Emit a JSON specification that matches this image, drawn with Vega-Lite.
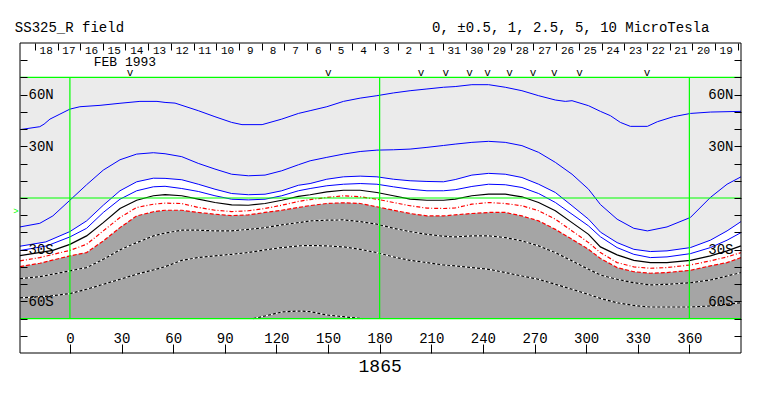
{
"$schema": "https://vega.github.io/schema/vega-lite/v6.json",
"width": 721, "height": 310,
"autosize": {"type": "none"},
"padding": {"left": 20, "top": 43, "right": 22, "bottom": 43},
"background": "white",
"config": {
 "view": {"stroke": null},
 "text": {"font": "Liberation Mono", "color": "black"},
 "axis": {"labelFont": "Liberation Mono", "labelFontSize": 14, "labelColor": "black", "tickColor": "black", "domain": false, "grid": false, "labelOverlap": false, "labelFlush": false, "labelBound": false}
},
"datasets": {
"contours": [
{"level":5,"lon":-29,"lat":39.7},{"level":5,"lon":-17.5,"lat":41.4},{"level":5,"lon":-15,"lat":42.9},{"level":5,"lon":-11.6,"lat":45.8},{"level":5,"lon":-5.8,"lat":48.7},{"level":5,"lon":0,"lat":51.6},{"level":5,"lon":5.8,"lat":53.0},{"level":5,"lon":17.5,"lat":53.8},{"level":5,"lon":29.1,"lat":55.0},{"level":5,"lon":40.7,"lat":56.1},{"level":5,"lon":50.6,"lat":56.1},{"level":5,"lon":55.3,"lat":55.5},{"level":5,"lon":61.1,"lat":55.1},{"level":5,"lon":74.6,"lat":50.7},{"level":5,"lon":84.3,"lat":47.2},{"level":5,"lon":94,"lat":43.9},{"level":5,"lon":100,"lat":42.6},{"level":5,"lon":111.7,"lat":42.6},{"level":5,"lon":123.1,"lat":45.8},{"level":5,"lon":132.8,"lat":49.1},{"level":5,"lon":139.6,"lat":50.7},{"level":5,"lon":149.3,"lat":53.0},{"level":5,"lon":159,"lat":56.1},{"level":5,"lon":168.7,"lat":58.0},{"level":5,"lon":178.4,"lat":59.4},{"level":5,"lon":188,"lat":61.0},{"level":5,"lon":197.7,"lat":62.3},{"level":5,"lon":207.5,"lat":63.3},{"level":5,"lon":217.1,"lat":64.3},{"level":5,"lon":223.9,"lat":64.7},{"level":5,"lon":233.6,"lat":65.8},{"level":5,"lon":243.3,"lat":65.8},{"level":5,"lon":253,"lat":64.3},{"level":5,"lon":262.7,"lat":62.3},{"level":5,"lon":272.4,"lat":59.4},{"level":5,"lon":282.1,"lat":56.9},{"level":5,"lon":287.9,"lat":56.1},{"level":5,"lon":291.8,"lat":56.5},{"level":5,"lon":301.4,"lat":53.6},{"level":5,"lon":308.3,"lat":50.3},{"level":5,"lon":314.1,"lat":47.8},{"level":5,"lon":319.9,"lat":43.9},{"level":5,"lon":325.7,"lat":41.6},{"level":5,"lon":335.6,"lat":41.6},{"level":5,"lon":341.4,"lat":44.3},{"level":5,"lon":350.7,"lat":47.2},{"level":5,"lon":360.6,"lat":49.1},{"level":5,"lon":372.2,"lat":49.9},{"level":5,"lon":390,"lat":50.3},
{"level":2.5,"lon":-29,"lat":-16.8},{"level":2.5,"lon":-17.5,"lat":-14.7},{"level":2.5,"lon":-9.9,"lat":-10.4},{"level":2.5,"lon":0,"lat":-1.3},{"level":2.5,"lon":9.7,"lat":7.7},{"level":2.5,"lon":19.4,"lat":16.2},{"level":2.5,"lon":29.1,"lat":22.2},{"level":2.5,"lon":38.8,"lat":25.5},{"level":2.5,"lon":48.5,"lat":26.3},{"level":2.5,"lon":55.3,"lat":25.7},{"level":2.5,"lon":65,"lat":24.0},{"level":2.5,"lon":74.6,"lat":20.1},{"level":2.5,"lon":84.3,"lat":16.8},{"level":2.5,"lon":94,"lat":13.8},{"level":2.5,"lon":103.7,"lat":12.9},{"level":2.5,"lon":113.4,"lat":13.3},{"level":2.5,"lon":123.1,"lat":15.8},{"level":2.5,"lon":132.8,"lat":19.3},{"level":2.5,"lon":139.6,"lat":21.6},{"level":2.5,"lon":149.3,"lat":23.6},{"level":2.5,"lon":159,"lat":25.5},{"level":2.5,"lon":168.7,"lat":27.0},{"level":2.5,"lon":178.4,"lat":27.8},{"level":2.5,"lon":188,"lat":28.0},{"level":2.5,"lon":197.7,"lat":28.4},{"level":2.5,"lon":207.5,"lat":29.4},{"level":2.5,"lon":217.1,"lat":30.5},{"level":2.5,"lon":223.9,"lat":31.3},{"level":2.5,"lon":233.6,"lat":32.3},{"level":2.5,"lon":243.3,"lat":32.9},{"level":2.5,"lon":253,"lat":32.3},{"level":2.5,"lon":262.7,"lat":30.4},{"level":2.5,"lon":272.4,"lat":26.5},{"level":2.5,"lon":282.1,"lat":20.7},{"level":2.5,"lon":291.8,"lat":13.8},{"level":2.5,"lon":301.4,"lat":5.1},{"level":2.5,"lon":308.3,"lat":-3.8},{"level":2.5,"lon":318,"lat":-12.3},{"level":2.5,"lon":327.7,"lat":-17.6},{"level":2.5,"lon":335.6,"lat":-19.1},{"level":2.5,"lon":347,"lat":-16.8},{"level":2.5,"lon":360.6,"lat":-11.3},{"level":2.5,"lon":372.2,"lat":0.3},{"level":2.5,"lon":381.9,"lat":8.0},{"level":2.5,"lon":390,"lat":12.3},
{"level":1,"lon":-29,"lat":-28.0},{"level":1,"lon":-14,"lat":-25.5},{"level":1,"lon":0,"lat":-19.5},{"level":1,"lon":9.7,"lat":-13.3},{"level":1,"lon":19.4,"lat":-4.2},{"level":1,"lon":29.1,"lat":4.2},{"level":1,"lon":38.8,"lat":9.4},{"level":1,"lon":48.5,"lat":11.5},{"level":1,"lon":55.3,"lat":11.4},{"level":1,"lon":65,"lat":10.6},{"level":1,"lon":74.6,"lat":8.0},{"level":1,"lon":84.3,"lat":5.1},{"level":1,"lon":94,"lat":2.6},{"level":1,"lon":103.7,"lat":1.9},{"level":1,"lon":113.4,"lat":2.2},{"level":1,"lon":123.1,"lat":4.2},{"level":1,"lon":132.8,"lat":7.4},{"level":1,"lon":139.6,"lat":8.4},{"level":1,"lon":149.3,"lat":10.9},{"level":1,"lon":159,"lat":12.3},{"level":1,"lon":168.7,"lat":12.7},{"level":1,"lon":178.4,"lat":12.3},{"level":1,"lon":188,"lat":10.9},{"level":1,"lon":197.7,"lat":10.0},{"level":1,"lon":207.5,"lat":9.6},{"level":1,"lon":217.1,"lat":9.4},{"level":1,"lon":223.9,"lat":10.7},{"level":1,"lon":233.6,"lat":13.3},{"level":1,"lon":243.3,"lat":14.3},{"level":1,"lon":253,"lat":13.8},{"level":1,"lon":262.7,"lat":11.9},{"level":1,"lon":272.4,"lat":8.0},{"level":1,"lon":282.1,"lat":3.2},{"level":1,"lon":291.8,"lat":-4.5},{"level":1,"lon":301.4,"lat":-12.3},{"level":1,"lon":308.3,"lat":-19.8},{"level":1,"lon":318,"lat":-25.9},{"level":1,"lon":327.7,"lat":-29.8},{"level":1,"lon":337.3,"lat":-31.1},{"level":1,"lon":347,"lat":-30.7},{"level":1,"lon":360.6,"lat":-28.8},{"level":1,"lon":372.2,"lat":-24.5},{"level":1,"lon":381.9,"lat":-19.1},{"level":1,"lon":390,"lat":-13.7},
{"level":0.5,"lon":-29,"lat":-30.5},{"level":0.5,"lon":-13.4,"lat":-27.8},{"level":0.5,"lon":0,"lat":-22.6},{"level":0.5,"lon":9.7,"lat":-17.6},{"level":0.5,"lon":19.4,"lat":-8.4},{"level":0.5,"lon":29.1,"lat":-0.7},{"level":0.5,"lon":38.8,"lat":4.2},{"level":0.5,"lon":48.5,"lat":6.5},{"level":0.5,"lon":55.3,"lat":6.8},{"level":0.5,"lon":65,"lat":5.5},{"level":0.5,"lon":74.6,"lat":3.8},{"level":0.5,"lon":84.3,"lat":1.3},{"level":0.5,"lon":94,"lat":-0.7},{"level":0.5,"lon":103.7,"lat":-1.1},{"level":0.5,"lon":113.4,"lat":-0.7},{"level":0.5,"lon":123.1,"lat":1.3},{"level":0.5,"lon":132.8,"lat":4.2},{"level":0.5,"lon":139.6,"lat":5.5},{"level":0.5,"lon":149.3,"lat":7.1},{"level":0.5,"lon":159,"lat":8.0},{"level":0.5,"lon":168.7,"lat":8.4},{"level":0.5,"lon":178.4,"lat":8.0},{"level":0.5,"lon":188,"lat":6.5},{"level":0.5,"lon":197.7,"lat":5.1},{"level":0.5,"lon":207.5,"lat":4.2},{"level":0.5,"lon":217.1,"lat":4.2},{"level":0.5,"lon":223.9,"lat":4.8},{"level":0.5,"lon":233.6,"lat":6.7},{"level":0.5,"lon":243.3,"lat":8.0},{"level":0.5,"lon":253,"lat":7.7},{"level":0.5,"lon":262.7,"lat":6.1},{"level":0.5,"lon":272.4,"lat":2.6},{"level":0.5,"lon":282.1,"lat":-2.6},{"level":0.5,"lon":291.8,"lat":-9.4},{"level":0.5,"lon":301.4,"lat":-16.2},{"level":0.5,"lon":308.3,"lat":-22.5},{"level":0.5,"lon":318,"lat":-28.8},{"level":0.5,"lon":327.7,"lat":-32.7},{"level":0.5,"lon":337.3,"lat":-34.6},{"level":0.5,"lon":347,"lat":-34.2},{"level":0.5,"lon":360.6,"lat":-32.3},{"level":0.5,"lon":372.2,"lat":-28.8},{"level":0.5,"lon":381.9,"lat":-24.5},{"level":0.5,"lon":390,"lat":-20.1},
{"level":0,"lon":-29,"lat":-33.5},{"level":0,"lon":-9.9,"lat":-30.4},{"level":0,"lon":0,"lat":-26.9},{"level":0,"lon":9.7,"lat":-22.0},{"level":0,"lon":19.4,"lat":-14.3},{"level":0,"lon":29.1,"lat":-6.1},{"level":0,"lon":38.8,"lat":-1.3},{"level":0,"lon":48.5,"lat":1.3},{"level":0,"lon":55.3,"lat":2.0},{"level":0,"lon":65,"lat":1.3},{"level":0,"lon":74.6,"lat":-0.7},{"level":0,"lon":84.3,"lat":-2.6},{"level":0,"lon":94,"lat":-4.0},{"level":0,"lon":103.7,"lat":-4.2},{"level":0,"lon":113.4,"lat":-3.2},{"level":0,"lon":123.1,"lat":-1.3},{"level":0,"lon":132.8,"lat":0.9},{"level":0,"lon":139.6,"lat":1.9},{"level":0,"lon":149.3,"lat":3.6},{"level":0,"lon":159,"lat":4.5},{"level":0,"lon":168.7,"lat":4.5},{"level":0,"lon":178.4,"lat":3.2},{"level":0,"lon":188,"lat":1.3},{"level":0,"lon":197.7,"lat":-0.7},{"level":0,"lon":207.5,"lat":-1.3},{"level":0,"lon":217.1,"lat":-1.3},{"level":0,"lon":223.9,"lat":-0.7},{"level":0,"lon":233.6,"lat":1.3},{"level":0,"lon":243.3,"lat":2.2},{"level":0,"lon":253,"lat":2.2},{"level":0,"lon":262.7,"lat":0.7},{"level":0,"lon":272.4,"lat":-2.6},{"level":0,"lon":282.1,"lat":-7.4},{"level":0,"lon":291.8,"lat":-14.3},{"level":0,"lon":301.4,"lat":-21.1},{"level":0,"lon":308.3,"lat":-28.4},{"level":0,"lon":318,"lat":-33.0},{"level":0,"lon":327.7,"lat":-36.2},{"level":0,"lon":337.3,"lat":-37.5},{"level":0,"lon":347,"lat":-37.5},{"level":0,"lon":360.6,"lat":-36.2},{"level":0,"lon":372.2,"lat":-33.6},{"level":0,"lon":381.9,"lat":-30.7},{"level":0,"lon":390,"lat":-27.8},
{"level":-0.5,"lon":-29,"lat":-36.5},{"level":-0.5,"lon":-17.5,"lat":-34.6},{"level":-0.5,"lon":0,"lat":-30.4},{"level":-0.5,"lon":9.7,"lat":-26.9},{"level":-0.5,"lon":19.4,"lat":-19.1},{"level":-0.5,"lon":29.1,"lat":-11.3},{"level":-0.5,"lon":38.8,"lat":-5.5},{"level":-0.5,"lon":48.5,"lat":-3.6},{"level":-0.5,"lon":55.3,"lat":-3.0},{"level":-0.5,"lon":65,"lat":-3.2},{"level":-0.5,"lon":74.6,"lat":-5.5},{"level":-0.5,"lon":84.3,"lat":-7.1},{"level":-0.5,"lon":94,"lat":-7.9},{"level":-0.5,"lon":103.7,"lat":-7.4},{"level":-0.5,"lon":113.4,"lat":-6.1},{"level":-0.5,"lon":123.1,"lat":-4.2},{"level":-0.5,"lon":132.8,"lat":-2.0},{"level":-0.5,"lon":139.6,"lat":-0.9},{"level":-0.5,"lon":149.3,"lat":0.3},{"level":-0.5,"lon":159,"lat":1.3},{"level":-0.5,"lon":168.7,"lat":0.7},{"level":-0.5,"lon":178.4,"lat":-0.7},{"level":-0.5,"lon":188,"lat":-2.6},{"level":-0.5,"lon":197.7,"lat":-4.5},{"level":-0.5,"lon":207.5,"lat":-5.9},{"level":-0.5,"lon":217.1,"lat":-6.1},{"level":-0.5,"lon":223.9,"lat":-5.8},{"level":-0.5,"lon":233.6,"lat":-3.6},{"level":-0.5,"lon":243.3,"lat":-2.6},{"level":-0.5,"lon":253,"lat":-3.2},{"level":-0.5,"lon":262.7,"lat":-4.5},{"level":-0.5,"lon":272.4,"lat":-7.4},{"level":-0.5,"lon":282.1,"lat":-12.3},{"level":-0.5,"lon":291.8,"lat":-19.1},{"level":-0.5,"lon":301.4,"lat":-25.9},{"level":-0.5,"lon":308.3,"lat":-31.7},{"level":-0.5,"lon":318,"lat":-37.5},{"level":-0.5,"lon":327.7,"lat":-40.0},{"level":-0.5,"lon":337.3,"lat":-40.8},{"level":-0.5,"lon":347,"lat":-40.4},{"level":-0.5,"lon":360.6,"lat":-38.9},{"level":-0.5,"lon":372.2,"lat":-36.5},{"level":-0.5,"lon":381.9,"lat":-34.2},{"level":-0.5,"lon":390,"lat":-31.7},
{"level":-1,"lon":-29,"lat":-39.8},{"level":-1,"lon":-17.5,"lat":-37.9},{"level":-1,"lon":0,"lat":-33.6},{"level":-1,"lon":9.7,"lat":-31.7},{"level":-1,"lon":19.4,"lat":-24.9},{"level":-1,"lon":29.1,"lat":-17.2},{"level":-1,"lon":38.8,"lat":-10.4},{"level":-1,"lon":48.5,"lat":-8.0},{"level":-1,"lon":55.3,"lat":-7.1},{"level":-1,"lon":65,"lat":-7.1},{"level":-1,"lon":74.6,"lat":-8.4},{"level":-1,"lon":84.3,"lat":-9.4},{"level":-1,"lon":94,"lat":-10.2},{"level":-1,"lon":103.7,"lat":-9.8},{"level":-1,"lon":113.4,"lat":-8.4},{"level":-1,"lon":123.1,"lat":-7.1},{"level":-1,"lon":132.8,"lat":-5.5},{"level":-1,"lon":139.6,"lat":-4.4},{"level":-1,"lon":149.3,"lat":-3.2},{"level":-1,"lon":159,"lat":-2.8},{"level":-1,"lon":168.7,"lat":-3.2},{"level":-1,"lon":178.4,"lat":-5.1},{"level":-1,"lon":188,"lat":-7.1},{"level":-1,"lon":197.7,"lat":-9.0},{"level":-1,"lon":207.5,"lat":-10.4},{"level":-1,"lon":217.1,"lat":-10.4},{"level":-1,"lon":223.9,"lat":-9.8},{"level":-1,"lon":233.6,"lat":-9.0},{"level":-1,"lon":243.3,"lat":-8.4},{"level":-1,"lon":253,"lat":-8.4},{"level":-1,"lon":262.7,"lat":-10.4},{"level":-1,"lon":272.4,"lat":-13.3},{"level":-1,"lon":282.1,"lat":-18.2},{"level":-1,"lon":291.8,"lat":-24.0},{"level":-1,"lon":301.4,"lat":-29.8},{"level":-1,"lon":308.3,"lat":-35.1},{"level":-1,"lon":318,"lat":-40.4},{"level":-1,"lon":327.7,"lat":-42.8},{"level":-1,"lon":337.3,"lat":-43.7},{"level":-1,"lon":347,"lat":-43.3},{"level":-1,"lon":360.6,"lat":-42.0},{"level":-1,"lon":372.2,"lat":-39.4},{"level":-1,"lon":381.9,"lat":-37.5},{"level":-1,"lon":390,"lat":-34.6},
{"level":-2.5,"lon":-29,"lat":-46.8},{"level":-2.5,"lon":-17.5,"lat":-45.7},{"level":-2.5,"lon":0,"lat":-42.3},{"level":-2.5,"lon":9.7,"lat":-40.4},{"level":-2.5,"lon":19.4,"lat":-35.6},{"level":-2.5,"lon":29.1,"lat":-30.1},{"level":-2.5,"lon":38.8,"lat":-25.9},{"level":-2.5,"lon":48.5,"lat":-22.0},{"level":-2.5,"lon":55.3,"lat":-20.4},{"level":-2.5,"lon":65,"lat":-18.7},{"level":-2.5,"lon":74.6,"lat":-18.7},{"level":-2.5,"lon":84.3,"lat":-19.1},{"level":-2.5,"lon":94,"lat":-19.1},{"level":-2.5,"lon":103.7,"lat":-18.2},{"level":-2.5,"lon":113.4,"lat":-17.2},{"level":-2.5,"lon":123.1,"lat":-15.6},{"level":-2.5,"lon":132.8,"lat":-14.3},{"level":-2.5,"lon":139.6,"lat":-13.3},{"level":-2.5,"lon":149.3,"lat":-12.9},{"level":-2.5,"lon":159,"lat":-12.7},{"level":-2.5,"lon":168.7,"lat":-13.7},{"level":-2.5,"lon":178.4,"lat":-15.2},{"level":-2.5,"lon":188,"lat":-17.6},{"level":-2.5,"lon":197.7,"lat":-19.5},{"level":-2.5,"lon":207.5,"lat":-21.1},{"level":-2.5,"lon":217.1,"lat":-22.2},{"level":-2.5,"lon":223.9,"lat":-22.6},{"level":-2.5,"lon":233.6,"lat":-22.0},{"level":-2.5,"lon":243.3,"lat":-22.0},{"level":-2.5,"lon":253,"lat":-23.0},{"level":-2.5,"lon":262.7,"lat":-24.9},{"level":-2.5,"lon":272.4,"lat":-27.8},{"level":-2.5,"lon":282.1,"lat":-31.7},{"level":-2.5,"lon":291.8,"lat":-36.5},{"level":-2.5,"lon":301.4,"lat":-41.4},{"level":-2.5,"lon":308.3,"lat":-44.7},{"level":-2.5,"lon":318,"lat":-47.2},{"level":-2.5,"lon":327.7,"lat":-49.2},{"level":-2.5,"lon":337.3,"lat":-50.5},{"level":-2.5,"lon":347,"lat":-50.1},{"level":-2.5,"lon":360.6,"lat":-49.2},{"level":-2.5,"lon":372.2,"lat":-47.6},{"level":-2.5,"lon":381.9,"lat":-45.3},{"level":-2.5,"lon":390,"lat":-43.3},
{"level":-5,"lon":-29,"lat":-58.0},{"level":-5,"lon":-11.6,"lat":-56.9},{"level":-5,"lon":0,"lat":-55.5},{"level":-5,"lon":9.7,"lat":-53.0},{"level":-5,"lon":19.4,"lat":-50.1},{"level":-5,"lon":29.1,"lat":-47.2},{"level":-5,"lon":38.8,"lat":-44.3},{"level":-5,"lon":48.5,"lat":-41.8},{"level":-5,"lon":55.3,"lat":-39.9},{"level":-5,"lon":65,"lat":-36.2},{"level":-5,"lon":74.6,"lat":-34.6},{"level":-5,"lon":84.3,"lat":-33.6},{"level":-5,"lon":94,"lat":-32.7},{"level":-5,"lon":103.7,"lat":-31.7},{"level":-5,"lon":113.4,"lat":-30.1},{"level":-5,"lon":123.1,"lat":-28.8},{"level":-5,"lon":132.8,"lat":-27.8},{"level":-5,"lon":139.6,"lat":-27.6},{"level":-5,"lon":149.3,"lat":-27.8},{"level":-5,"lon":159,"lat":-28.4},{"level":-5,"lon":168.7,"lat":-29.8},{"level":-5,"lon":178.4,"lat":-31.7},{"level":-5,"lon":188,"lat":-34.2},{"level":-5,"lon":197.7,"lat":-36.2},{"level":-5,"lon":207.5,"lat":-37.5},{"level":-5,"lon":217.1,"lat":-38.9},{"level":-5,"lon":223.9,"lat":-39.4},{"level":-5,"lon":233.6,"lat":-40.4},{"level":-5,"lon":243.3,"lat":-41.4},{"level":-5,"lon":253,"lat":-43.3},{"level":-5,"lon":262.7,"lat":-45.3},{"level":-5,"lon":272.4,"lat":-47.2},{"level":-5,"lon":282.1,"lat":-50.1},{"level":-5,"lon":291.8,"lat":-53.0},{"level":-5,"lon":301.4,"lat":-56.0},{"level":-5,"lon":308.3,"lat":-58.3},{"level":-5,"lon":318,"lat":-60.8},{"level":-5,"lon":327.7,"lat":-62.4},{"level":-5,"lon":337.3,"lat":-63.3},{"level":-5,"lon":347,"lat":-63.3},{"level":-5,"lon":360.6,"lat":-63.3},{"level":-5,"lon":372.2,"lat":-62.7},{"level":-5,"lon":390,"lat":-60.8},
{"level":-10,"lon":106.6,"lat":-70},{"level":-10,"lon":113.4,"lat":-68.5},{"level":-10,"lon":123.1,"lat":-66.2},{"level":-10,"lon":132.8,"lat":-65.6},{"level":-10,"lon":139.6,"lat":-66.0},{"level":-10,"lon":149.3,"lat":-67.9},{"level":-10,"lon":159,"lat":-68.9},{"level":-10,"lon":168.7,"lat":-69.9},{"level":-10,"lon":170,"lat":-70}
],
"days": [
{"lon":-13.8,"d":"18"},{"lon":-0.6,"d":"17"},{"lon":12.6,"d":"16"},{"lon":25.7,"d":"15"},{"lon":38.9,"d":"14"},{"lon":52.1,"d":"13"},{"lon":65.3,"d":"12"},{"lon":78.4,"d":"11"},{"lon":91.6,"d":"10"},{"lon":104.8,"d":"9"},{"lon":118.0,"d":"8"},{"lon":131.1,"d":"7"},{"lon":144.3,"d":"6"},{"lon":157.5,"d":"5"},{"lon":170.7,"d":"4"},{"lon":183.8,"d":"3"},{"lon":197.0,"d":"2"},{"lon":210.2,"d":"1"},{"lon":223.3,"d":"31"},{"lon":236.5,"d":"30"},{"lon":249.7,"d":"29"},{"lon":262.9,"d":"28"},{"lon":276.0,"d":"27"},{"lon":289.2,"d":"26"},{"lon":302.4,"d":"25"},{"lon":315.6,"d":"24"},{"lon":328.7,"d":"23"},{"lon":341.9,"d":"22"},{"lon":355.1,"d":"21"},{"lon":368.2,"d":"20"},{"lon":381.4,"d":"19"}
],
"vmarks": [{"lon":34.9},{"lon":150.2},{"lon":204},{"lon":218.5},{"lon":232.2},{"lon":242.7},{"lon":255.5},{"lon":269.1},{"lon":281.5},{"lon":296.2},{"lon":335.4}],
"lats": [{"lat":-80},{"lat":-70},{"lat":-60},{"lat":-50},{"lat":-40},{"lat":-30},{"lat":-20},{"lat":-10},{"lat":0},{"lat":10},{"lat":20},{"lat":30},{"lat":40},{"lat":50},{"lat":60},{"lat":70},{"lat":80}]
},
"resolve": {"axis": {"x": "independent", "y": "independent"}},
"layer": [
{"data": {"values": [{}]},
 "mark": {"type": "rect", "color": "#ebebeb"},
 "encoding": {
  "x": {"datum": -29, "type": "quantitative", "scale": {"domain": [-29, 390], "nice": false, "zero": false},
        "axis": {"orient": "bottom", "title": null, "zindex": 1, "values": [0,30,60,90,120,150,180,210,240,270,300,330,360], "tickSize": -9, "labelPadding": -2, "labelBaseline": "alphabetic", "labelAlign": "center"}},
  "x2": {"datum": 390},
  "y": {"datum": -70, "type": "quantitative", "scale": {"domain": [-90, 90], "nice": false, "zero": false}, "axis": null},
  "y2": {"datum": 70}
 }},
{"data": {"name": "contours"}, "transform": [{"filter": "datum.level == 1"}],
 "mark": {"type": "area", "color": "white"},
 "encoding": {"x": {"field": "lon", "type": "quantitative", "axis": null}, "y": {"field": "lat", "type": "quantitative", "axis": null}, "y2": {"datum": -70}}},
{"data": {"name": "contours"}, "transform": [{"filter": "datum.level == -1"}],
 "mark": {"type": "area", "color": "#a5a5a5"},
 "encoding": {"x": {"field": "lon", "type": "quantitative", "axis": null}, "y": {"field": "lat", "type": "quantitative", "axis": null}, "y2": {"datum": -70}}},
{"data": {"name": "contours"}, "transform": [{"filter": "datum.level > 0"}],
 "mark": {"type": "line", "color": "#0000ff", "strokeWidth": 1},
 "encoding": {"x": {"field": "lon", "type": "quantitative", "axis": null}, "y": {"field": "lat", "type": "quantitative", "axis": null}, "detail": {"field": "level"}}},
{"data": {"name": "contours"}, "transform": [{"filter": "datum.level == 0"}],
 "mark": {"type": "line", "color": "black", "strokeWidth": 1.2},
 "encoding": {"x": {"field": "lon", "type": "quantitative", "axis": null}, "y": {"field": "lat", "type": "quantitative", "axis": null}}},
{"data": {"name": "contours"}, "transform": [{"filter": "datum.level == -0.5"}],
 "mark": {"type": "line", "color": "#ff0000", "strokeWidth": 1.2, "strokeDash": [4, 2, 1, 2]},
 "encoding": {"x": {"field": "lon", "type": "quantitative", "axis": null}, "y": {"field": "lat", "type": "quantitative", "axis": null}}},
{"data": {"name": "contours"}, "transform": [{"filter": "datum.level == -1"}],
 "mark": {"type": "line", "color": "#ff0000", "strokeWidth": 1.2, "strokeDash": [4, 2]},
 "encoding": {"x": {"field": "lon", "type": "quantitative", "axis": null}, "y": {"field": "lat", "type": "quantitative", "axis": null}}},
{"data": {"name": "contours"}, "transform": [{"filter": "datum.level <= -2.5"}],
 "mark": {"type": "line", "color": "white", "strokeWidth": 1.2},
 "encoding": {"x": {"field": "lon", "type": "quantitative", "axis": null}, "y": {"field": "lat", "type": "quantitative", "axis": null}, "detail": {"field": "level"}}},
{"data": {"name": "contours"}, "transform": [{"filter": "datum.level <= -2.5"}],
 "mark": {"type": "line", "color": "black", "strokeWidth": 1.2, "strokeDash": [3, 2]},
 "encoding": {"x": {"field": "lon", "type": "quantitative", "axis": null}, "y": {"field": "lat", "type": "quantitative", "axis": null}, "detail": {"field": "level"}}},
{"data": {"values": [{"lat": 70}, {"lat": 0}, {"lat": -70}]},
 "mark": {"type": "rule", "color": "#00ff00", "strokeWidth": 1.2},
 "encoding": {"y": {"field": "lat", "type": "quantitative", "axis": null}, "x": {"datum": -29, "type": "quantitative", "axis": null}, "x2": {"datum": 390}}},
{"data": {"values": [{"lon": 0}, {"lon": 180}, {"lon": 360}]},
 "mark": {"type": "rule", "color": "#00ff00", "strokeWidth": 1.2},
 "encoding": {
  "x": {"field": "lon", "type": "quantitative",
        "axis": {"orient": "top", "title": null, "zindex": 1, "values": [-20.4,-7.2,6.0,19.2,32.3,45.5,58.7,71.9,85.0,98.2,111.4,124.5,137.7,150.9,164.1,177.2,190.4,203.6,216.8,229.9,243.1,256.3,269.4,282.6,295.8,309.0,322.1,335.3,348.5,361.7,374.8,388.0], "tickSize": -7, "labels": false}},
  "y": {"datum": -70, "type": "quantitative", "axis": null},
  "y2": {"datum": 70}
 }},
{"data": {"name": "lats"},
 "mark": {"type": "point", "opacity": 0},
 "encoding": {
  "x": {"datum": 0, "type": "quantitative", "axis": null},
  "y": {"field": "lat", "type": "quantitative",
        "axis": {"orient": "left", "title": null, "zindex": 1, "values": [-80,-70,-60,-50,-40,-30,-20,-10,0,10,20,30,40,50,60,70,80], "tickSize": -7, "labelPadding": -1, "labelAlign": "left", "labelBaseline": "middle",
                 "labelExpr": "datum.value == 60 ? '60N' : datum.value == 30 ? '30N' : datum.value == -30 ? '30S' : datum.value == -60 ? '60S' : ''"}}
 }},
{"data": {"name": "lats"},
 "mark": {"type": "point", "opacity": 0},
 "encoding": {
  "x": {"datum": 0, "type": "quantitative", "axis": null},
  "y": {"field": "lat", "type": "quantitative",
        "axis": {"orient": "right", "title": null, "zindex": 1, "values": [-80,-70,-60,-50,-40,-30,-20,-10,0,10,20,30,40,50,60,70,80], "tickSize": -7, "labelPadding": -1, "labelAlign": "right", "labelBaseline": "middle",
                 "labelExpr": "datum.value == 60 ? '60N' : datum.value == 30 ? '30N' : datum.value == -30 ? '30S' : datum.value == -60 ? '60S' : ''"}}
 }},
{"data": {"name": "days"},
 "mark": {"type": "text", "fontSize": 11, "baseline": "alphabetic", "align": "center"},
 "encoding": {"x": {"field": "lon", "type": "quantitative", "axis": null}, "y": {"datum": 83.6, "type": "quantitative", "axis": null}, "text": {"field": "d"}}},
{"data": {"name": "vmarks"},
 "mark": {"type": "text", "fontSize": 11, "baseline": "alphabetic", "align": "center", "text": "v"},
 "encoding": {"x": {"field": "lon", "type": "quantitative", "axis": null}, "y": {"datum": 70.8, "type": "quantitative", "axis": null}}},
{"data": {"values": [{"lon": -32, "t": "SS325_R field"}, {"lon": 210.5, "t": "0, ±0.5, 1, 2.5, 5, 10 MicroTesla"}]},
 "mark": {"type": "text", "fontSize": 14, "baseline": "alphabetic", "align": "left"},
 "encoding": {"x": {"field": "lon", "type": "quantitative", "axis": null}, "y": {"datum": 96.6, "type": "quantitative", "axis": null}, "text": {"field": "t"}}},
{"data": {"values": [{"lon": 32, "t": "FEB 1993"}]},
 "mark": {"type": "text", "fontSize": 13, "baseline": "alphabetic", "align": "center"},
 "encoding": {"x": {"field": "lon", "type": "quantitative", "axis": null}, "y": {"datum": 76.8, "type": "quantitative", "axis": null}, "text": {"field": "t"}}},
{"data": {"values": [{"lon": 180.3, "t": "1865"}]},
 "mark": {"type": "text", "fontSize": 18, "baseline": "alphabetic", "align": "center"},
 "encoding": {"x": {"field": "lon", "type": "quantitative", "axis": null}, "y": {"datum": -101.3, "type": "quantitative", "axis": null}, "text": {"field": "t"}}},
{"data": {"values": [{"lon": -31.4, "t": ">"}]},
 "mark": {"type": "text", "fontSize": 9, "baseline": "middle", "align": "center", "color": "#00ff00"},
 "encoding": {"x": {"field": "lon", "type": "quantitative", "axis": null}, "y": {"datum": -7.5, "type": "quantitative", "axis": null}, "text": {"field": "t"}}},
{"data": {"values": [{}]},
 "mark": {"type": "rect", "filled": false, "color": "black", "strokeWidth": 1},
 "encoding": {"x": {"datum": -29, "type": "quantitative", "axis": null}, "x2": {"datum": 390}, "y": {"datum": -90, "type": "quantitative", "axis": null}, "y2": {"datum": 90}}}
]
}
